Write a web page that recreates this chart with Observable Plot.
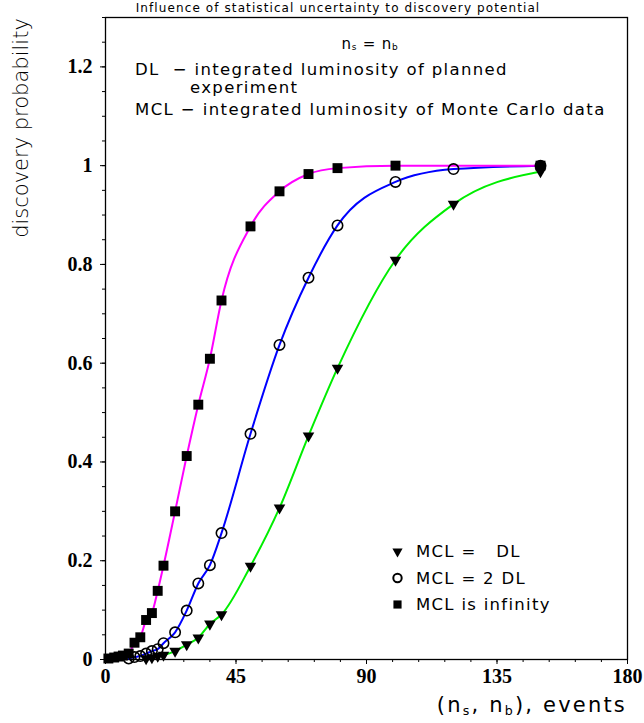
<!DOCTYPE html>
<html>
<head>
<meta charset="utf-8">
<script src="https://cdn.jsdelivr.net/npm/d3@7"></script>
<script src="https://cdn.jsdelivr.net/npm/@observablehq/plot@0.6"></script>
<style>
  html, body { margin: 0; padding: 0; background: #fff; }
</style>
</head>
<body>
<div id="chart"></div>
<script>
// ---- data ----
const title = "Influence of statistical uncertainty to discovery potential";
const xTicks = [0, 45, 90, 135, 180];
const yTicks = [0, 0.2, 0.4, 0.6, 0.8, 1, 1.2];

// MCL = DL (green, down triangles)
const dlX = [14, 16, 18, 20, 24, 28, 32, 36, 40, 50, 60, 70, 80, 100, 120, 150];
const dlY = [0.002, 0.004, 0.007, 0.009, 0.017, 0.030, 0.044, 0.072, 0.091, 0.189, 0.307, 0.453, 0.590, 0.809, 0.922, 0.988];

// MCL = 2 DL (blue, open circles)
const dl2X = [8, 10, 12, 14, 16, 18, 20, 24, 28, 32, 36, 40, 50, 60, 70, 80, 100, 120, 150];
const dl2Y = [0.002, 0.005, 0.007, 0.012, 0.017, 0.021, 0.033, 0.055, 0.099, 0.154, 0.191, 0.256, 0.457, 0.637, 0.773, 0.879, 0.967, 0.993, 1.0];

// MCL is infinity (magenta, filled squares)
const infX = [1, 3, 4.5, 6, 8, 10, 12, 14, 16, 18, 20, 24, 28, 32, 36, 40, 50, 60, 70, 80, 100, 150];
const infY = [0.002, 0.004, 0.006, 0.008, 0.012, 0.034, 0.045, 0.080, 0.094, 0.139, 0.190, 0.300, 0.412, 0.516, 0.609, 0.727, 0.877, 0.948, 0.983, 0.995, 1.0, 1.0];

const legendLabels = ["MCL =   DL", "MCL = 2 DL", "MCL is infinity"];
const noteLines = ["DL  \u2212 integrated luminosity of planned", "experiment", "MCL \u2212 integrated luminosity of Monte Carlo data"];

// ---- build ----
const toRows = (xs, ys) => xs.map((x, i) => ({x, y: ys[i]}));
const series = [
  {rows: toRows(dlX, dlY), color: "#00ee00", symbol: "triangle", fill: "black", stroke: "none", r: 4.3, lr: 3.8, rotate: 180},
  {rows: toRows(dl2X, dl2Y), color: "#0000ff", symbol: "circle", fill: "none", stroke: "black", r: 5.2, lr: 4.2, rotate: 0},
  {rows: toRows(infX, infY), color: "#ff00ff", symbol: "square", fill: "black", stroke: "none", r: 5.6, lr: 4.6, rotate: 0}
];

const W = 644, H = 723;
const mL = 105, mR = 17, mT = 17, mB = 64;

const marks = [
  Plot.frame({stroke: "black", strokeWidth: 1.3}),
  Plot.axisX(d3.range(0, 181, 9), {tickSize: 3, text: null, label: null, strokeWidth: 1}),
  Plot.axisX(xTicks, {tickSize: 5, tickPadding: 4, label: null,
    fontFamily: "Liberation Serif", fontWeight: "bold", fontSize: 20, fill: "black"}),
  Plot.axisY(d3.range(0, 1.301, 0.05), {tickSize: 3, text: null, label: null, strokeWidth: 1}),
  Plot.axisY(yTicks, {tickSize: 5, tickPadding: 8, label: null,
    tickFormat: d => String(+d.toFixed(1)),
    fontFamily: "Liberation Serif", fontWeight: "bold", fontSize: 20, fill: "black"})
];
for (const s of series) {
  marks.push(Plot.line(s.rows, {x: "x", y: "y", stroke: s.color, strokeWidth: 2, curve: "monotone-x"}));
}
for (const s of series) {
  marks.push(Plot.dot(s.rows, {x: "x", y: "y", symbol: s.symbol, r: s.r, fill: s.fill,
    stroke: s.stroke, strokeWidth: 1.6, rotate: s.rotate}));
}
// legend symbols, placed relative to the frame
series.forEach((s, i) => {
  marks.push(Plot.dot([legendLabels[i]], {frameAnchor: "top-left", dx: 292, dy: 551 + 26.5 * i - mT,
    symbol: s.symbol, r: s.lr, fill: s.fill, stroke: s.stroke, strokeWidth: 2, rotate: s.rotate}));
});

const chart = Plot.plot({
  width: W, height: H,
  marginLeft: mL, marginRight: mR, marginTop: mT, marginBottom: mB,
  x: {domain: [0, 180]},
  y: {domain: [0, 1.3]},
  style: {background: "white", color: "black", overflow: "visible"},
  marks
});
document.getElementById("chart").appendChild(chart);

// texts (with subscripts and letter spacing)
const svg = d3.select(chart);
function rich(x, y, parts, opts) {
  const t = svg.append("text")
    .attr("x", x).attr("y", y)
    .attr("font-family", opts.family || "DejaVu Sans")
    .attr("font-size", opts.size)
    .attr("font-weight", opts.weight || "normal")
    .attr("letter-spacing", opts.spacing || 0)
    .attr("text-anchor", opts.anchor || "start")
    .attr("dominant-baseline", "middle")
    .attr("fill", "black");
  if (opts.rotate) t.attr("transform", `rotate(${opts.rotate},${x},${y})`);
  const sh = opts.size * 0.22;
  parts.forEach(([txt, sub], i) => {
    const prev = i > 0 ? parts[i - 1][1] : false;
    const ts = t.append("tspan").text(txt);
    if (sub) ts.attr("font-size", opts.size * 0.6);
    if (sub && !prev) ts.attr("dy", sh);
    else if (!sub && prev) ts.attr("dy", -sh);
  });
  return t;
}
rich(338, 8, [[title, false]], {size: 12, anchor: "middle", spacing: 1.1});
rich(370, 44, [["n", false], ["s", true], [" = n", false], ["b", true]], {size: 15, anchor: "middle", spacing: 0.8});
rich(135, 70, [[noteLines[0], false]], {size: 16.5, spacing: 1.35});
rich(190, 88, [[noteLines[1], false]], {size: 16.5, spacing: 1.35});
rich(135, 110, [[noteLines[2], false]], {size: 16.5, spacing: 1.4});
legendLabels.forEach((lab, i) => {
  rich(416, 552 + 26.5 * i, [[lab, false]], {size: 16.5, spacing: 1.3});
});
rich(627, 706, [["(n", false], ["s", true], [", n", false], ["b", true], ["), events", false]], {size: 21, anchor: "end", spacing: 2.2});
rich(22, 128, [["discovery probability", false]], {size: 21, anchor: "middle", rotate: -90, weight: 300});
</script>
</body>
</html>
